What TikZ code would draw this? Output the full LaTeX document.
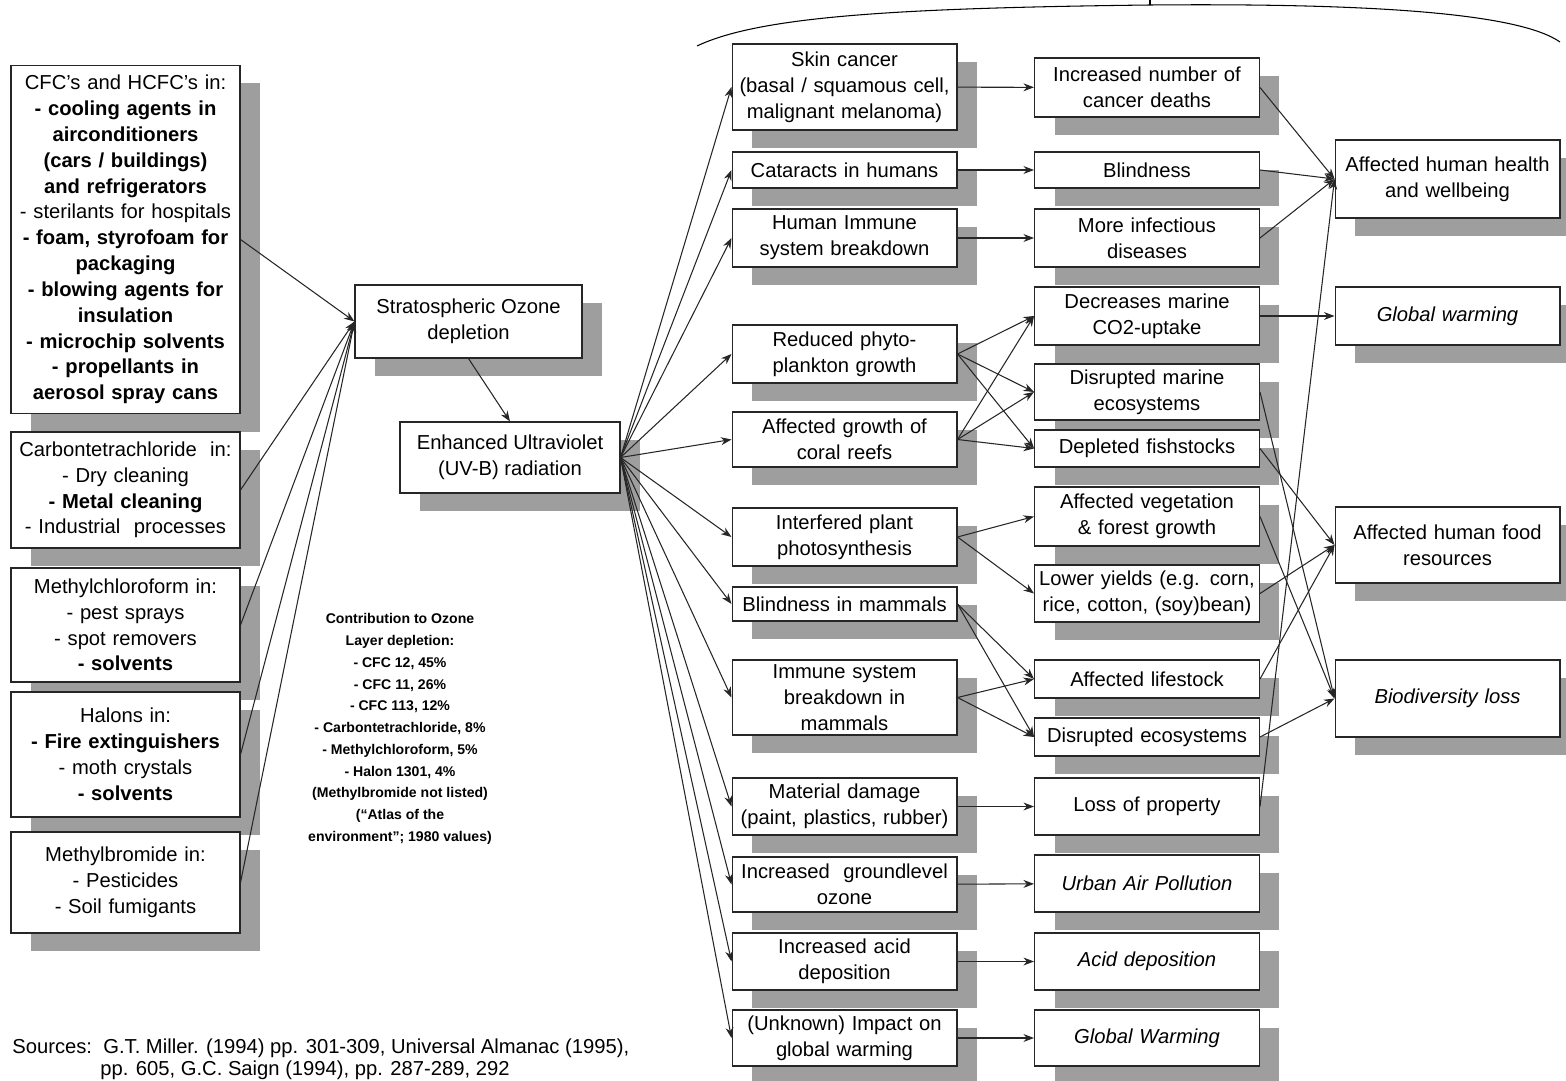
\documentclass[tikz,border=0pt]{standalone}
\usepackage{fontspec}
\setmainfont{Liberation Sans}
\usepackage{tikz}
\usetikzlibrary{arrows.meta, shadows}
\tikzstyle{box} = [rectangle, draw=black!85, line width=0.6pt, fill=white, align=center, inner sep=1pt, font=\fontsize{11.5}{14.7}\selectfont, drop shadow={shadow xshift=0.4cm, shadow yshift=-0.36cm, fill=black!38, opacity=1}]
\tikzstyle{source} = [box, minimum width=4.58cm, text width=4.45cm]
\tikzstyle{effect} = [box, minimum width=4.5cm, text width=4.4cm]
\tikzstyle{note} = [align=center, inner sep=0pt, font=\bfseries\fontsize{8}{12.4}\selectfont]
\tikzstyle{ref} = [anchor=base west, inner sep=0pt, font=\fontsize{11.5}{14.7}\selectfont]
\tikzstyle{arrow} = [->, >={Stealth[length=6pt, width=4.5pt]}, line width=0.6pt, black!85]

\begin{document}
\begin{tikzpicture}[x=0.02cm, y=-0.02cm]
	\useasboundingbox (0,0) rectangle (1566,1081);
	% sources
	\node (cfc) [source, minimum height=6.98cm] at (125.5,239.5) {CFC's and HCFC's in:\\ \textbf{- cooling agents in}\\ \textbf{airconditioners}\\ \textbf{(cars / buildings)}\\ \textbf{and refrigerators}\\ - sterilants for hospitals\\ \textbf{- foam, styrofoam for}\\ \textbf{packaging}\\ \textbf{- blowing agents for}\\ \textbf{insulation}\\ \textbf{- microchip solvents}\\ \textbf{- propellants in}\\ \textbf{aerosol spray cans}};
	\node (ctc) [source, minimum height=2.32cm] at (125.5,490) {Carbontetrachloride\ \ in:\\ - Dry cleaning\\ \textbf{- Metal cleaning}\\ - Industrial\ \ processes};
	\node (mcf) [source, minimum height=2.28cm] at (125.5,625) {Methylchloroform in:\\ - pest sprays\\ - spot removers\\ \textbf{- solvents}};
	\node (hal) [source, minimum height=2.5cm] at (125.5,754.5) {Halons in:\\ \textbf{- Fire extinguishers}\\ - moth crystals\\ \textbf{- solvents}};
	\node (mbr) [source, minimum height=2.02cm] at (125.5,882.5) {Methylbromide in:\\ - Pesticides\\ - Soil fumigants};

	\node (strato) [box, minimum width=4.54cm, minimum height=1.46cm] at (468.5,321.5) {Stratospheric Ozone\\ depletion};
	\node (uv) [box, minimum width=4.4cm, minimum height=1.42cm] at (510,457.5) {Enhanced Ultraviolet\\ (UV-B) radiation};
	\node (contrib) [note] at (400,729) {Contribution to Ozone\\ Layer depletion:\\ - CFC 12, 45\%\\ - CFC 11, 26\%\\ - CFC 113, 12\%\\ - Carbontetrachloride, 8\%\\ - Methylchloroform, 5\%\\ - Halon 1301, 4\%\\ (Methylbromide not listed)\\ (``Atlas of the\\ environment''; 1980 values)};

	% direct effects
	\node (skin) [effect, minimum height=1.72cm] at (844.5,87) {Skin cancer\\ (basal / squamous cell,\\ malignant melanoma)};
	\node (cat) [effect, minimum height=0.72cm] at (844.5,170) {Cataracts in humans};
	\node (him) [effect, minimum height=1.16cm] at (844.5,238) {Human Immune\\ system breakdown};
	\node (phy) [effect, minimum height=1.16cm] at (844.5,354) {Reduced phyto-\\ plankton growth};
	\node (cor) [effect, minimum height=1.1cm] at (844.5,439.5) {Affected growth of\\ coral reefs};
	\node (pho) [effect, minimum height=1.16cm] at (844.5,537) {Interfered plant\\ photosynthesis};
	\node (blm) [effect, minimum height=0.68cm] at (844.5,604) {Blindness in mammals};
	\node (imm) [effect, minimum height=1.5cm] at (844.5,697.5) {Immune system\\ breakdown in\\ mammals};
	\node (mat) [effect, minimum height=1.14cm] at (844.5,806.5) {Material damage\\ (paint, plastics, rubber)};
	\node (gro) [effect, minimum height=1.1cm] at (844.5,884.5) {Increased\ \ groundlevel\\ ozone};
	\node (aci) [effect, minimum height=1.14cm] at (844.5,961.5) {Increased acid\\ deposition};
	\node (unk) [effect, minimum height=1.12cm] at (844.5,1038) {(Unknown) Impact on\\ global warming};

	% consequences
	\node (dea) [effect, minimum height=1.18cm] at (1147,87.5) {Increased number of\\ cancer deaths};
	\node (bli) [effect, minimum height=0.72cm] at (1147,170) {Blindness};
	\node (inf) [effect, minimum height=1.16cm] at (1147,238) {More infectious\\ diseases};
	\node (co2) [effect, minimum height=1.16cm] at (1147,316) {Decreases marine\\ CO2-uptake};
	\node (dme) [effect, minimum height=1.12cm] at (1147,392) {Disrupted marine\\ ecosystems};
	\node (fis) [effect, minimum height=0.74cm] at (1147,448.5) {Depleted fishstocks};
	\node (veg) [effect, minimum height=1.18cm] at (1147,516.5) {Affected vegetation\\ \& forest growth};
	\node (yie) [effect, minimum height=1.14cm] at (1147,593.5) {Lower yields (e.g. corn,\\ rice, cotton, (soy)bean)};
	\node (lif) [effect, minimum height=0.76cm] at (1147,679) {Affected lifestock};
	\node (dec) [effect, minimum height=0.76cm] at (1147,737) {Disrupted ecosystems};
	\node (los) [effect, minimum height=1.14cm] at (1147,806.5) {Loss of property};
	\node (urb) [effect, minimum height=1.14cm] at (1147,883.5) {\itshape Urban Air Pollution};
	\node (acd) [effect, minimum height=1.14cm] at (1147,961.5) {\itshape Acid deposition};
	\node (glw) [effect, minimum height=1.12cm] at (1147,1038) {\itshape Global Warming};

	% final impacts
	\node (hea) [effect, minimum height=1.56cm] at (1447.5,179) {Affected human health\\ and wellbeing};
	\node (gw) [effect, minimum height=1.16cm] at (1447.5,316) {\itshape Global warming};
	\node (foo) [effect, minimum height=1.52cm] at (1447.5,545) {Affected human food\\ resources};
	\node (bio) [effect, minimum height=1.54cm] at (1447.5,698.5) {\itshape Biodiversity loss};

	\node (src1) [ref] at (12,1053) {Sources:\ \ G.T. Miller. (1994) pp. 301-309, Universal Almanac (1995),};
	\node (src2) [ref] at (100,1075) {pp. 605, G.C. Saign (1994), pp. 287-289, 292};

	% bracket over the effects
	\draw [line width=0.6pt] (697,46) .. controls (760,16) and (900,8) .. (1150,5) .. controls (1380,3) and (1520,14) .. (1560,42);
	\draw [line width=0.6pt] (1150,5) -- (1150,0);

	\draw [arrow](cfc.east) -- (strato.west);
	\draw [arrow](ctc.east) -- (strato.west);
	\draw [arrow](mcf.east) -- (strato.west);
	\draw [arrow](hal.east) -- (strato.west);
	\draw [arrow](mbr.east) -- (strato.west);
	\draw [arrow](strato.south) -- (uv.north);

	\draw [arrow](uv.east) -- (skin.west);
	\draw [arrow](uv.east) -- (cat.west);
	\draw [arrow](uv.east) -- (him.west);
	\draw [arrow](uv.east) -- (phy.west);
	\draw [arrow](uv.east) -- (cor.west);
	\draw [arrow](uv.east) -- (pho.west);
	\draw [arrow](uv.east) -- (blm.west);
	\draw [arrow](uv.east) -- (imm.west);
	\draw [arrow](uv.east) -- (mat.west);
	\draw [arrow](uv.east) -- (gro.west);
	\draw [arrow](uv.east) -- (aci.west);
	\draw [arrow](uv.east) -- (unk.west);

	\draw [arrow](skin) -- (dea);
	\draw [arrow](cat) -- (bli);
	\draw [arrow](him) -- (inf);
	\draw [arrow](phy.east) -- (co2.west);
	\draw [arrow](phy.east) -- (dme.west);
	\draw [arrow](phy.east) -- (fis.west);
	\draw [arrow](cor.east) -- (co2.west);
	\draw [arrow](cor.east) -- (dme.west);
	\draw [arrow](cor.east) -- (fis.west);
	\draw [arrow](pho.east) -- (veg.west);
	\draw [arrow](pho.east) -- (yie.west);
	\draw [arrow](blm.east) -- (lif.west);
	\draw [arrow](blm.east) -- (dec.west);
	\draw [arrow](imm.east) -- (lif.west);
	\draw [arrow](imm.east) -- (dec.west);
	\draw [arrow](mat) -- (los);
	\draw [arrow](gro) -- (urb);
	\draw [arrow](aci) -- (acd);
	\draw [arrow](unk) -- (glw);

	\draw [arrow](dea.east) -- (hea.west);
	\draw [arrow](bli.east) -- (hea.west);
	\draw [arrow](inf.east) -- (hea.west);
	\draw [arrow](los.east) -- (hea.west);
	\draw [arrow](co2) -- (gw);
	\draw [arrow](fis.east) -- (foo.west);
	\draw [arrow](yie.east) -- (foo.west);
	\draw [arrow](lif.east) -- (foo.west);
	\draw [arrow](dme.east) -- (bio.west);
	\draw [arrow](veg.east) -- (bio.west);
	\draw [arrow](dec.east) -- (bio.west);
\end{tikzpicture}
\end{document}
